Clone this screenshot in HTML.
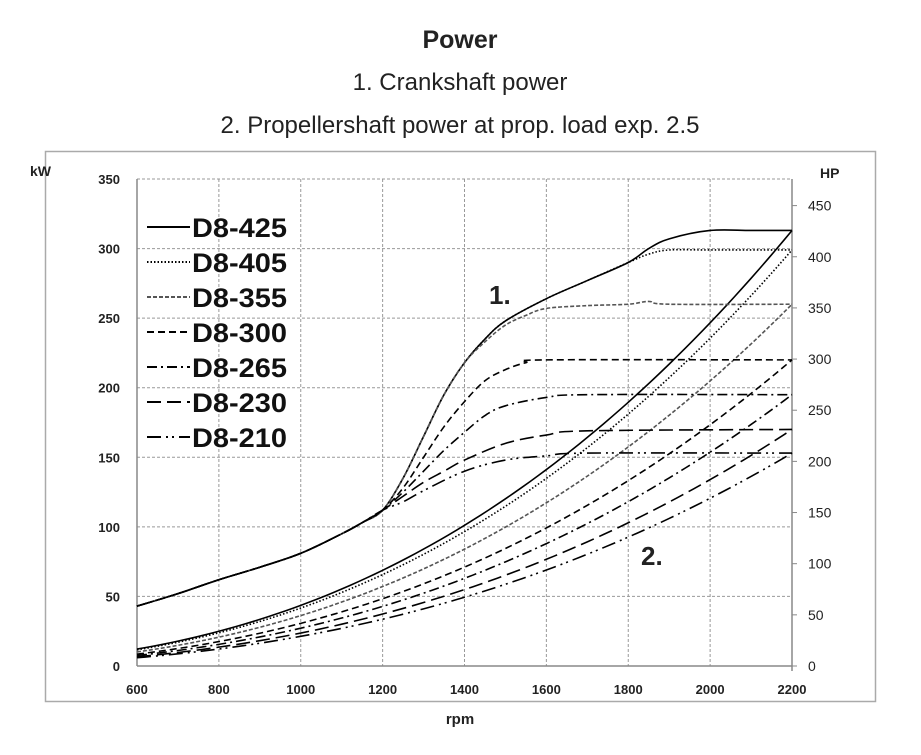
<!DOCTYPE html>
<html><head><meta charset="utf-8"><style>
body{margin:0;background:#fff;width:921px;height:750px;overflow:hidden;font-family:"Liberation Sans",sans-serif}
</style></head><body>
<svg id="s" width="921" height="750" xmlns="http://www.w3.org/2000/svg">
<text x="460" y="48" text-anchor="middle" font-size="25" font-weight="bold" fill="#222">Power</text>
<text x="460" y="90" text-anchor="middle" font-size="24" fill="#222">1. Crankshaft power</text>
<text x="460" y="133" text-anchor="middle" font-size="24" fill="#222">2. Propellershaft power at prop. load exp. 2.5</text>
<rect x="45.5" y="151.5" width="830" height="550" fill="none" stroke="#aaa" stroke-width="1.5"/>
<g id="g"></g>
</svg>
<script>
const X=r=>137+(r-600)*655/1600, Y=k=>666-k*487/350;
const g=document.getElementById('g');let h='';
for(let r=800;r<=2200;r+=200)h+=`<line x1="${X(r)}" y1="179" x2="${X(r)}" y2="666" stroke="#999" stroke-dasharray="3,2"/>`;
for(let k=50;k<=350;k+=50)h+=`<line x1="137" y1="${Y(k)}" x2="792" y2="${Y(k)}" stroke="#999" stroke-dasharray="3,2"/>`;
h+=`<line x1="137" y1="179" x2="137" y2="666" stroke="#888" stroke-width="1.5"/><line x1="137" y1="666" x2="792" y2="666" stroke="#888" stroke-width="1.5"/><line x1="792" y1="179" x2="792" y2="671" stroke="#888" stroke-width="1.5"/>`;
for(let k=0;k<=350;k+=50)h+=`<text x="120" y="${Y(k)+5}" text-anchor="end" font-size="13" font-weight="bold" fill="#222">${k}</text>`;
for(let r=600;r<=2200;r+=200)h+=`<text x="${X(r)}" y="694" text-anchor="middle" font-size="13" font-weight="bold" fill="#222">${r}</text>`;
for(let p=0;p<=450;p+=50){const y=666-p*487/476;h+=`<line x1="792" y1="${y}" x2="797" y2="${y}" stroke="#888"/><text x="808" y="${y+5}" font-size="14" fill="#222">${p}</text>`;}
h+=`<text x="30" y="176" font-size="14" font-weight="bold" fill="#222">kW</text><text x="820" y="178" font-size="14" font-weight="bold" fill="#222">HP</text><text x="460" y="724" text-anchor="middle" font-size="15" font-weight="bold" fill="#222">rpm</text>`;
h+=`<text x="489" y="304" font-size="26" font-weight="bold" fill="#222">1.</text><text x="641" y="565" font-size="26" font-weight="bold" fill="#222">2.</text>`;
const C=[[600,43],[700,52],[800,62],[900,71],[1000,81],[1100,95],[1150,103],[1200,112]];
const S=[
{n:'D8-425',m:313,d:'',c:'#000',p:[[1250,135],[1300,165],[1350,195],[1400,218],[1450,235],[1500,248],[1600,264],[1700,277],[1800,290],[1850,300],[1900,307],[2000,313],[2100,313],[2200,313]]},
{n:'D8-405',m:299,d:'1.5,2',c:'#000',p:[[1250,135],[1300,165],[1350,195],[1400,218],[1450,235],[1500,248],[1600,264],[1700,277],[1800,290],[1850,296],[1900,299],[2000,299],[2200,299]]},
{n:'D8-355',m:260,d:'4,2',c:'#555',p:[[1250,135],[1300,165],[1350,195],[1400,218],[1450,233],[1500,245],[1550,252],[1600,257],[1700,259],[1800,260],[1850,262],[1900,260],[2200,260]]},
{n:'D8-300',m:220,d:'7,4',c:'#000',p:[[1250,128],[1300,150],[1350,172],[1400,190],[1450,205],[1500,213],[1550,218],[1600,220],[2200,220]]},
{n:'D8-265',m:195,d:'10,4,2,4',c:'#000',p:[[1250,125],[1300,140],[1350,155],[1400,168],[1450,180],[1500,187],[1600,193],[1700,195],[2200,195]]},
{n:'D8-230',m:170,d:'14,6',c:'#000',p:[[1250,122],[1300,132],[1350,140],[1400,148],[1500,160],[1600,166],[1700,169],[2200,170]]},
{n:'D8-210',m:153,d:'14,5,2,4,2,5',c:'#000',p:[[1250,118],[1300,126],[1400,140],[1500,148],[1600,151],[1700,153],[2200,153]]}];
function cr(pts){pts=pts.map(q=>[X(q[0]),Y(q[1])]);let d=`M${pts[0]}`;for(let i=0;i<pts.length-1;i++){const p0=pts[i-1]||pts[i],p1=pts[i],p2=pts[i+1],p3=pts[i+2]||p2;d+=`C${p1[0]+(p2[0]-p0[0])/6},${p1[1]+(p2[1]-p0[1])/6} ${p2[0]-(p3[0]-p1[0])/6},${p2[1]-(p3[1]-p1[1])/6} ${p2[0]},${p2[1]}`;}return d;}
S.forEach((s,i)=>{const a=`stroke="${s.c}" stroke-width="1.6" fill="none" ${s.d?`stroke-dasharray="${s.d}"`:''}`;
h+=`<path d="${cr(C.concat(s.p))}" ${a}/>`;
let pp=[];for(let r=600;r<=2200;r+=20)pp.push([X(r),Y(s.m*Math.pow(r/2200,2.5))]);
h+=`<path d="M${pp.join('L')}" ${a}/>`;
const y=227+i*35;h+=`<line x1="147" y1="${y}" x2="190" y2="${y}" ${a.replace('1.6','2')}/><text x="192" y="${y+10}" font-size="27" font-weight="bold" fill="#111" textLength="95" lengthAdjust="spacingAndGlyphs">${s.n}</text>`;});
g.innerHTML=h;
</script>
</body></html>
